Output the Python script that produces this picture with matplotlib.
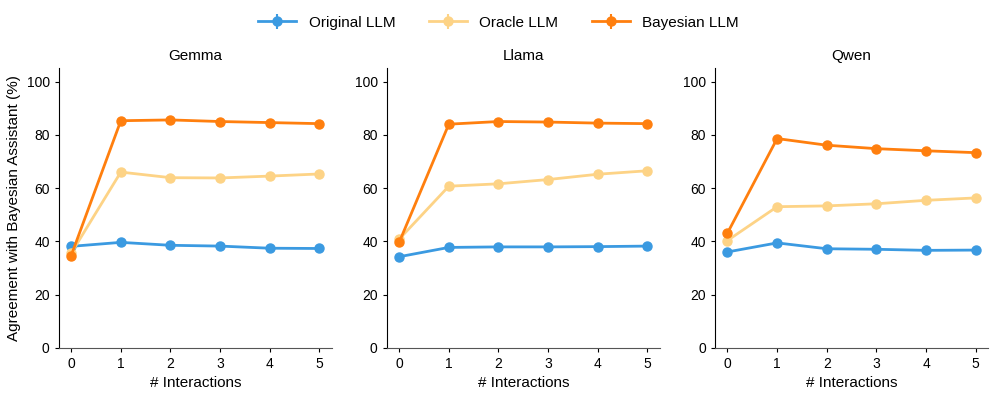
import matplotlib.pyplot as plt

plt.rcParams["font.family"] = ["Liberation Sans", "DejaVu Sans"]

interactions = [0, 1, 2, 3, 4, 5]
models = ["Gemma", "Llama", "Qwen"]

original = {
    "Gemma": [38.1, 39.6, 38.5, 38.2, 37.4, 37.3],
    "Llama": [34.2, 37.7, 37.9, 37.9, 38.0, 38.2],
    "Qwen": [36.0, 39.4, 37.2, 37.0, 36.6, 36.7],
}
oracle = {
    "Gemma": [35.5, 66.0, 63.9, 63.8, 64.5, 65.3],
    "Llama": [40.8, 60.7, 61.6, 63.2, 65.2, 66.5],
    "Qwen": [40.3, 53.0, 53.3, 54.1, 55.4, 56.3],
}
bayesian = {
    "Gemma": [34.6, 85.3, 85.6, 85.0, 84.6, 84.2],
    "Llama": [39.6, 84.0, 85.0, 84.8, 84.4, 84.2],
    "Qwen": [43.1, 78.6, 76.1, 74.8, 74.0, 73.3],
}
err = [0, 0, 0, 0, 0, 0]

series = [
    ("Original LLM", original, "#3b9ae1"),
    ("Oracle LLM", oracle, "#fdd386"),
    ("Bayesian LLM", bayesian, "#ff7f0e"),
]

fig = plt.figure(figsize=(9.97, 3.97), dpi=100)
lefts = [0.0589, 0.3879, 0.7172]
axes = [fig.add_axes([l, 0.124, 0.274, 0.704]) for l in lefts]

for ax, m in zip(axes, models):
    for label, data, color in series:
        ax.errorbar(interactions, data[m], yerr=err, color=color, marker="o",
                    markersize=6.5, linewidth=2, elinewidth=1.5, capsize=0,
                    label=label)
    ax.set_title(m, fontsize=11)
    ax.set_xlim(-0.25, 5.25)
    ax.set_ylim(0, 105)
    ax.set_xticks(interactions)
    ax.set_yticks([0, 20, 40, 60, 80, 100])
    ax.set_xlabel("# Interactions", fontsize=11)
    ax.tick_params(labelsize=10, length=3)
    ax.spines["top"].set_visible(False)
    ax.spines["right"].set_visible(False)
    ax.spines["bottom"].set_color("#555555")

axes[0].set_ylabel("Agreement with Bayesian Assistant (%)", fontsize=11)

handles, labels = axes[0].get_legend_handles_labels()
fig.legend(handles, labels, loc="upper center", ncol=3, frameon=False,
           fontsize=11, bbox_to_anchor=(0.5, 0.995), columnspacing=2.2,
           handlelength=2.5)

fig.savefig("out.png", dpi=100)
